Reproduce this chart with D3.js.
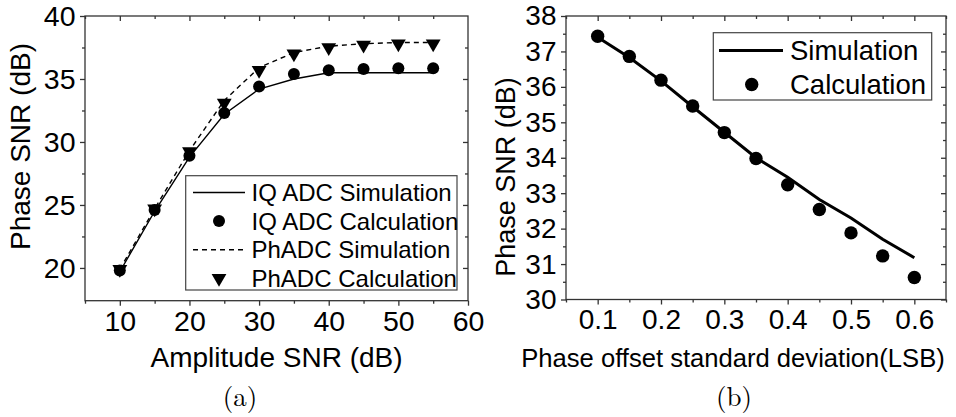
<!DOCTYPE html>
<html>
<head>
<meta charset="utf-8">
<script src="https://cdn.jsdelivr.net/npm/d3@7"></script>
<style>
  body { margin: 0; background: #fff; }
  svg { display: block; font-family: "Liberation Sans", Arial, sans-serif; }
</style>
</head>
<body>
<script>
// panel (a) data
var ampSNR = [10, 15, 20, 25, 30, 35, 40, 45, 50, 55];
var iqSim  = [19.7, 24.5, 28.8, 32.2, 34.2, 35.0, 35.5, 35.5, 35.5, 35.5];
var iqCalc = [19.8, 24.6, 28.9, 32.3, 34.4, 35.4, 35.7, 35.8, 35.85, 35.85];
var phSim  = [19.9, 24.7, 29.3, 33.3, 35.9, 37.1, 37.6, 37.8, 37.9, 37.9];
var phCalc = [19.9, 24.7, 29.25, 33.1, 35.7, 37.0, 37.5, 37.7, 37.8, 37.8];
var aXTicks = [10, 20, 30, 40, 50, 60];
var aYTicks = [20, 25, 30, 35, 40];

// panel (b) data
var phaseStd = [0.1, 0.15, 0.2, 0.25, 0.3, 0.35, 0.4, 0.45, 0.5, 0.55, 0.6];
var bSim  = [37.4, 36.83, 36.17, 35.44, 34.72, 34.0, 33.45, 32.82, 32.3, 31.7, 31.18];
var bCalc = [37.43, 36.86, 36.19, 35.46, 34.71, 33.98, 33.24, 32.54, 31.88, 31.23, 30.62];
var bXTicks = [0.1, 0.2, 0.3, 0.4, 0.5, 0.6];
var bYTicks = [30, 31, 32, 33, 34, 35, 36, 37, 38];

var W = 956, H = 417;
var svg = d3.select("body").append("svg").attr("width", W).attr("height", H);

var frameColor = "#333";

function frame(g, x, y, xMajor, xMinor, yMajor, yMinor, fmt, labelSize) {
  var x0 = x.range()[0], x1 = x.range()[1], y0 = y.range()[0], y1 = y.range()[1];
  // bottom axis, ticks out
  g.append("g").attr("transform", "translate(0," + y0 + ")")
    .call(d3.axisBottom(x).tickValues(xMajor).tickSize(5).tickPadding(5).tickFormat(fmt))
    .call(s => s.select(".domain").remove());
  g.append("g").attr("transform", "translate(0," + y0 + ")")
    .call(d3.axisBottom(x).tickValues(xMinor).tickSize(3).tickFormat(""))
    .call(s => s.select(".domain").remove());
  // top axis, ticks in
  g.append("g").attr("transform", "translate(0," + y1 + ")")
    .call(d3.axisTop(x).tickValues(xMajor.filter(v => v < x.domain()[1])).tickSize(-5).tickFormat(""))
    .call(s => s.select(".domain").remove());
  g.append("g").attr("transform", "translate(0," + y1 + ")")
    .call(d3.axisTop(x).tickValues(xMinor).tickSize(-3).tickFormat(""))
    .call(s => s.select(".domain").remove());
  // left axis, ticks out
  g.append("g").attr("transform", "translate(" + x0 + ",0)")
    .call(d3.axisLeft(y).tickValues(yMajor).tickSize(5).tickPadding(4.5))
    .call(s => s.select(".domain").remove());
  g.append("g").attr("transform", "translate(" + x0 + ",0)")
    .call(d3.axisLeft(y).tickValues(yMinor).tickSize(3).tickFormat(""))
    .call(s => s.select(".domain").remove());
  // right axis, ticks in
  g.append("g").attr("transform", "translate(" + x1 + ",0)")
    .call(d3.axisRight(y).tickValues(yMajor.filter(v => v < y.domain()[1])).tickSize(-5).tickFormat(""))
    .call(s => s.select(".domain").remove());
  g.append("g").attr("transform", "translate(" + x1 + ",0)")
    .call(d3.axisRight(y).tickValues(yMinor).tickSize(-3).tickFormat(""))
    .call(s => s.select(".domain").remove());

  g.selectAll(".tick line").attr("stroke", frameColor).attr("stroke-width", 1.3);
  g.selectAll(".tick text").attr("fill", "#000").style("font-size", labelSize + "px")
    .style("font-family", "'Liberation Sans', Arial, sans-serif");

  g.append("rect").attr("x", x0).attr("y", y1).attr("width", x1 - x0).attr("height", y0 - y1)
    .attr("fill", "none").attr("stroke", frameColor).attr("stroke-width", 1.3);
}

// ---------- panel (a) ----------
var xa = d3.scaleLinear().domain([5, 60]).range([85, 468]);
var ya = d3.scaleLinear().domain([17.4, 40]).range([300.7, 16]);
var ga = svg.append("g");

frame(ga, xa, ya, aXTicks, [5, 15, 25, 35, 45, 55], aYTicks, [22.5, 27.5, 32.5, 37.5], d3.format("d"), 28.5);

var lineA = d3.line().x(d => xa(d[0])).y(d => ya(d[1]));
ga.append("path").datum(d3.zip(ampSNR, iqSim)).attr("d", lineA)
  .attr("fill", "none").attr("stroke", "#000").attr("stroke-width", 1.4);
ga.append("path").datum(d3.zip(ampSNR, phSim)).attr("d", lineA)
  .attr("fill", "none").attr("stroke", "#000").attr("stroke-width", 1.4).attr("stroke-dasharray", "5,4");

var tri = d3.symbol().type(d3.symbolTriangle).size(95);
ga.selectAll("path.tri").data(d3.zip(ampSNR, phCalc)).enter().append("path").attr("class", "tri")
  .attr("d", tri).attr("fill", "#000")
  .attr("transform", d => "translate(" + xa(d[0]) + "," + ya(d[1]) + ") rotate(180)");
ga.selectAll("circle.iq").data(d3.zip(ampSNR, iqCalc)).enter().append("circle").attr("class", "iq")
  .attr("cx", d => xa(d[0])).attr("cy", d => ya(d[1])).attr("r", 6).attr("fill", "#000");

// legend (a)
var la = ga.append("g");
la.append("rect").attr("x", 185.7).attr("y", 175.7).attr("width", 271.3).attr("height", 114.3)
  .attr("fill", "#fff").attr("stroke", "#444").attr("stroke-width", 1.2);
var legA = ["IQ ADC Simulation", "IQ ADC Calculation", "PhADC Simulation", "PhADC Calculation"];
legA.forEach(function(t, i) {
  var cy = 192.5 + i * 28.6;
  if (i === 0 || i === 2) {
    la.append("line").attr("x1", 193).attr("x2", 245).attr("y1", cy).attr("y2", cy)
      .attr("stroke", "#000").attr("stroke-width", 1.4)
      .attr("stroke-dasharray", i === 2 ? "5,4" : null);
  } else if (i === 1) {
    la.append("circle").attr("cx", 219).attr("cy", cy).attr("r", 6).attr("fill", "#000");
  } else {
    la.append("path").attr("d", tri).attr("fill", "#000")
      .attr("transform", "translate(219," + cy + ") rotate(180)");
  }
  la.append("text").attr("x", 251.5).attr("y", cy).attr("dy", "0.35em")
    .style("font-size", "24px").text(t);
});

// axis titles (a)
ga.append("text").attr("x", 276.5).attr("y", 367).attr("text-anchor", "middle")
  .style("font-size", "28px").text("Amplitude SNR (dB)");
ga.append("text").attr("transform", "translate(30,146.5) rotate(-90)").attr("text-anchor", "middle")
  .style("font-size", "28px").text("Phase SNR (dB)");
ga.append("text").attr("x", 240).attr("y", 406).attr("text-anchor", "middle")
  .style("font-family", "'Latin Modern Roman', 'Liberation Serif', serif").style("font-size", "27px").text("(a)");

// ---------- panel (b) ----------
var xb = d3.scaleLinear().domain([0.05, 0.65]).range([566, 946]);
var yb = d3.scaleLinear().domain([30, 38]).range([299.5, 16]);
var gb = svg.append("g");

frame(gb, xb, yb, bXTicks, [0.05, 0.15, 0.25, 0.35, 0.45, 0.55, 0.65], bYTicks,
  [30.5, 31.5, 32.5, 33.5, 34.5, 35.5, 36.5, 37.5], d3.format(".1f"), 28);

var lineB = d3.line().x(d => xb(d[0])).y(d => yb(d[1]));
gb.append("path").datum(d3.zip(phaseStd, bSim)).attr("d", lineB)
  .attr("fill", "none").attr("stroke", "#000").attr("stroke-width", 3);
gb.selectAll("circle.calc").data(d3.zip(phaseStd, bCalc)).enter().append("circle").attr("class", "calc")
  .attr("cx", d => xb(d[0])).attr("cy", d => yb(d[1])).attr("r", 6.7).attr("fill", "#000");

// legend (b)
var lb = gb.append("g");
lb.append("rect").attr("x", 713.3).attr("y", 32.7).attr("width", 218.4).attr("height", 67.3)
  .attr("fill", "#fff").attr("stroke", "#444").attr("stroke-width", 1.2);
lb.append("line").attr("x1", 719).attr("x2", 783).attr("y1", 50.5).attr("y2", 50.5)
  .attr("stroke", "#000").attr("stroke-width", 3);
lb.append("text").attr("x", 790).attr("y", 50.5).attr("dy", "0.35em").style("font-size", "27.5px").text("Simulation");
lb.append("circle").attr("cx", 751.7).attr("cy", 84.5).attr("r", 6.7).attr("fill", "#000");
lb.append("text").attr("x", 790).attr("y", 84.5).attr("dy", "0.35em").style("font-size", "27.5px").text("Calculation");

// axis titles (b)
gb.append("text").attr("x", 733).attr("y", 367).attr("text-anchor", "middle")
  .style("font-size", "25.6px").text("Phase offset standard deviation(LSB)");
gb.append("text").attr("transform", "translate(515,177) rotate(-90)").attr("text-anchor", "middle")
  .style("font-size", "27px").text("Phase SNR (dB)");
gb.append("text").attr("x", 734).attr("y", 406).attr("text-anchor", "middle")
  .style("font-family", "'Latin Modern Roman', 'Liberation Serif', serif").style("font-size", "27px").text("(b)");
</script>
</body>
</html>
